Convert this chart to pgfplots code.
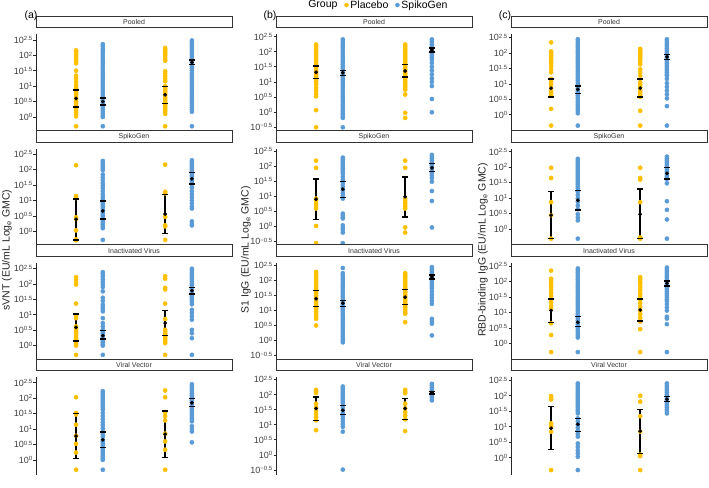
\documentclass[border=0pt]{standalone}
\usepackage{fontspec}
\setmainfont{Liberation Sans}
\usepackage{pgfplots}
\pgfplotsset{compat=1.18}
\definecolor{plc}{HTML}{FFC000}
\definecolor{spk}{HTML}{5B9BD5}
\newcommand{\tpow}[1]{10\raisebox{0.55ex}{\fontsize{6}{6}\selectfont #1}}
\newcommand{\pts}[3]{\addplot[forget plot, only marks, mark=*, mark size=2.1pt, color=#1] table[header=false, row sep=\\, x expr=#2, y index=0] {#3};}
% \eb{x}{mean}{upper}{lower}
\newcommand{\eb}[4]{%
\addplot[forget plot, black, line width=1.4pt] coordinates {(#1,#4) (#1,#3)};
\addplot[forget plot, black, only marks, mark=-, mark size=2.8pt, mark options={line width=1.4pt}] coordinates {(#1,#3) (#1,#4)};
\addplot[forget plot, black, only marks, mark=*, mark size=1.7pt] coordinates {(#1,#2)};}
\pgfplotsset{
 panel/.style={scale only axis, width=196pt, height=97.5pt, xmin=0.4, xmax=2.6,
   axis x line=none, axis y line*=left, axis line style={-, black!85, line width=0.6pt},
   xtick=\empty, tick align=outside, major tick length=2.5pt,
   every tick/.style={black!85, line width=0.6pt},
   tick label style={font=\fontsize{9}{10}\selectfont, text=black!75},
   yticklabel style={inner sep=1pt},
   title style={at={(0.5,1)}, anchor=south, yshift=0pt, draw=black!80, fill=white, line width=0.8pt,
     minimum width=196pt, minimum height=11.6pt, inner sep=0pt, font=\fontsize{7}{8}\selectfont, text=black!80}},
 colA/.style={ymin=-0.48, ymax=2.68, ytick={0,0.5,1,1.5,2,2.5},
   yticklabels={\tpow{0},\tpow{0.5},\tpow{1},\tpow{1.5},\tpow{2},\tpow{2.5}}},
 colB/.style={ymin=-0.66, ymax=2.58, ytick={-0.5,0,0.5,1,1.5,2,2.5},
   yticklabels={\tpow{−0.5},\tpow{0},\tpow{0.5},\tpow{1},\tpow{1.5},\tpow{2},\tpow{2.5}}},
 colC/.style={ymin=-0.55, ymax=2.6, ytick={0,0.5,1,1.5,2,2.5},
   yticklabels={\tpow{0},\tpow{0.5},\tpow{1},\tpow{1.5},\tpow{2},\tpow{2.5}}},
 bottomrow/.style={axis x line*=bottom, xtick={1,2}, xticklabels={Day0,Day14}, x tick label style={font=\fontsize{10}{11}\selectfont}}
}
\begin{document}
\begin{tikzpicture}
\useasboundingbox (0,0) rectangle (709pt,487pt);
% ================= column (a) =================
\begin{axis}[panel, colA, at={(36pt,355.2pt)}, title={Pooled}]
\pts{plc}{0.85}{2.16\\2.10\\2.04\\1.98\\1.92\\1.86\\1.80\\1.74\\1.50\\1.34\\1.24\\1.14\\1.04\\0.98\\0.92\\0.86\\0.80\\0.74\\0.68\\0.62\\0.56\\0.50\\0.44\\0.38\\0.32\\0.26\\0.20\\0.14\\0.08\\0.02\\-0.30\\}
\pts{spk}{1.15}{2.36\\2.29\\2.22\\2.15\\2.08\\2.01\\1.94\\1.87\\1.80\\1.73\\1.66\\1.59\\1.52\\1.45\\1.38\\1.31\\1.24\\1.17\\1.10\\1.03\\0.96\\0.89\\0.82\\0.75\\0.68\\0.61\\0.54\\0.47\\0.40\\0.33\\0.26\\0.19\\0.12\\0.05\\0.00\\-0.30\\}
\pts{plc}{1.85}{2.24\\2.18\\2.12\\2.06\\2.00\\1.94\\1.88\\1.82\\1.48\\1.40\\1.32\\1.24\\1.16\\1.00\\0.94\\0.88\\0.82\\0.76\\0.70\\0.64\\0.58\\0.52\\0.46\\0.40\\0.34\\0.28\\0.22\\0.16\\0.10\\-0.30\\}
\pts{spk}{2.15}{2.48\\2.41\\2.34\\2.27\\2.20\\2.13\\2.06\\1.99\\1.92\\1.85\\1.78\\1.71\\1.64\\1.57\\1.50\\1.43\\1.36\\1.29\\1.22\\1.15\\1.08\\1.01\\0.94\\0.87\\0.80\\0.73\\0.66\\0.59\\0.52\\0.45\\0.38\\0.31\\0.24\\0.17\\-0.30\\}
\eb{0.85}{0.60}{0.88}{0.32}
\eb{1.15}{0.50}{0.61}{0.39}
\eb{1.85}{0.72}{0.98}{0.44}
\eb{2.15}{1.77}{1.85}{1.70}
\end{axis}
\begin{axis}[panel, colA, at={(36pt,240.9pt)}, title={SpikoGen}]
\pts{plc}{0.85}{2.14\\1.14\\1.08\\0.45\\0.40\\0.03\\-0.26\\-0.29\\}
\pts{spk}{1.15}{2.28\\2.22\\2.16\\2.10\\2.04\\1.98\\1.84\\1.75\\1.66\\1.56\\1.48\\1.40\\1.30\\1.20\\1.12\\1.05\\0.99\\0.93\\0.87\\0.81\\0.75\\0.69\\0.63\\0.57\\0.51\\0.45\\0.39\\0.33\\0.27\\0.21\\0.15\\0.10\\-0.28\\}
\pts{plc}{1.85}{2.16\\1.28\\1.23\\0.47\\0.19\\0.16\\-0.28\\}
\pts{spk}{2.15}{2.30\\2.24\\2.18\\2.12\\2.06\\2.00\\1.94\\1.88\\1.82\\1.76\\1.70\\1.64\\1.58\\1.53\\1.42\\1.30\\1.20\\1.10\\1.00\\0.90\\0.80\\0.74\\0.32\\0.24\\0.19\\}
\eb{0.85}{0.39}{1.05}{-0.28}
\eb{1.15}{0.66}{0.98}{0.40}
\eb{1.85}{0.56}{1.19}{-0.07}
\eb{2.15}{1.70}{1.90}{1.53}
\end{axis}
\begin{axis}[panel, colA, at={(36pt,126.6pt)}, title={Inactivated Virus}]
\pts{plc}{0.85}{2.22\\2.14\\2.05\\1.98\\1.36\\0.97\\0.89\\0.62\\0.55\\0.48\\0.41\\0.34\\0.27\\0.20\\0.13\\0.06\\0.00\\-0.30\\}
\pts{spk}{1.15}{2.38\\2.31\\2.23\\2.14\\2.06\\1.98\\1.90\\1.76\\1.55\\1.45\\1.33\\1.25\\1.18\\1.11\\0.89\\0.73\\0.62\\0.51\\0.45\\0.39\\0.33\\0.27\\0.21\\0.15\\0.09\\0.03\\0.00\\-0.30\\}
\pts{plc}{1.85}{2.25\\2.17\\1.87\\1.82\\1.36\\0.86\\0.51\\0.45\\0.39\\0.33\\0.27\\0.21\\0.15\\0.08\\-0.30\\}
\pts{spk}{2.15}{2.49\\2.43\\2.37\\2.31\\2.25\\2.19\\2.13\\2.07\\2.01\\1.95\\1.89\\1.83\\1.77\\1.71\\1.65\\1.59\\1.53\\1.47\\1.41\\1.34\\1.16\\1.06\\0.95\\0.84\\0.51\\0.40\\0.24\\-0.30\\}
\eb{0.85}{0.59}{1.02}{0.15}
\eb{1.15}{0.32}{0.49}{0.21}
\eb{1.85}{0.73}{1.13}{0.32}
\eb{2.15}{1.78}{1.89}{1.67}
\end{axis}
\begin{axis}[panel, colA, bottomrow, at={(36pt,12.3pt)}, title={Viral Vector}]
\pts{plc}{0.85}{2.03\\1.52\\1.47\\1.14\\0.78\\0.52\\0.24\\-0.32\\}
\pts{spk}{1.15}{2.23\\2.17\\2.11\\2.05\\1.99\\1.93\\1.87\\1.81\\1.75\\1.69\\1.63\\1.52\\1.42\\1.32\\1.22\\1.12\\1.02\\0.92\\0.84\\0.76\\0.65\\0.59\\0.53\\0.47\\0.41\\0.35\\0.29\\0.23\\0.17\\0.11\\0.05\\0.00\\-0.32\\}
\pts{plc}{1.85}{2.25\\2.03\\1.55\\1.42\\1.28\\0.85\\0.60\\0.33\\-0.32\\}
\pts{spk}{2.15}{2.45\\2.39\\2.33\\2.27\\2.21\\2.15\\2.09\\2.03\\1.97\\1.91\\1.85\\1.79\\1.73\\1.67\\1.61\\1.55\\1.49\\1.43\\1.37\\1.31\\1.25\\1.09\\1.00\\0.92\\0.57\\}
\eb{0.85}{0.77}{1.50}{0.05}
\eb{1.15}{0.65}{0.90}{0.41}
\eb{1.85}{0.83}{1.58}{0.08}
\eb{2.15}{1.85}{1.98}{1.74}
\end{axis}
% ================= column (b) =================
\begin{axis}[panel, colB, at={(276pt,355.2pt)}, title={Pooled},
  legend style={at={(0.52,1.30)}, anchor=center, draw=none, fill=none, legend columns=-1,
   font=\fontsize{10.5}{12}\selectfont, /tikz/every even column/.append style={column sep=5pt}},
  legend cell align=left]
\addlegendimage{empty legend}\addlegendentry{Group}
\addlegendimage{only marks, mark=*, mark size=2pt, color=plc}\addlegendentry{Placebo}
\addlegendimage{only marks, mark=*, mark size=2pt, color=spk}\addlegendentry{SpikoGen}
\pts{plc}{0.85}{2.24\\2.18\\2.12\\2.06\\2.00\\1.94\\1.88\\1.82\\1.76\\1.70\\1.64\\1.58\\1.52\\1.46\\1.40\\1.34\\1.28\\1.22\\1.16\\1.10\\1.04\\0.97\\0.91\\0.80\\0.70\\0.60\\0.52\\0.06\\-0.51\\}
\pts{spk}{1.15}{2.41\\2.34\\2.27\\2.20\\2.13\\2.06\\1.99\\1.92\\1.85\\1.78\\1.71\\1.64\\1.57\\1.50\\1.43\\1.36\\1.29\\1.22\\1.15\\1.08\\1.01\\0.94\\0.87\\0.80\\0.73\\0.66\\0.59\\0.52\\0.45\\0.38\\0.31\\0.24\\0.17\\0.10\\0.03\\-0.04\\-0.09\\-0.15\\-0.20\\-0.51\\}
\pts{plc}{1.85}{2.24\\2.18\\2.12\\2.06\\2.00\\1.94\\1.88\\1.82\\1.76\\1.70\\1.64\\1.58\\1.52\\1.46\\1.40\\1.34\\1.28\\1.22\\1.16\\1.10\\1.04\\0.98\\0.92\\0.86\\0.80\\0.74\\0.58\\-0.03\\-0.20\\}
\pts{spk}{2.15}{2.41\\2.35\\2.29\\2.23\\2.17\\2.11\\2.05\\1.99\\1.93\\1.87\\1.81\\1.74\\1.63\\1.50\\1.38\\1.25\\1.12\\1.00\\0.86\\0.43\\-0.01\\}
\eb{0.85}{1.32}{1.52}{1.11}
\eb{1.15}{1.30}{1.38}{1.21}
\eb{1.85}{1.36}{1.58}{1.16}
\eb{2.15}{2.06}{2.13}{1.99}
\end{axis}
\begin{axis}[panel, colB, at={(276pt,240.9pt)}, title={SpikoGen}]
\pts{plc}{0.85}{2.18\\1.94\\0.92\\0.86\\0.76\\0.68\\0.59\\0.01\\-0.56\\}
\pts{spk}{1.15}{2.28\\2.22\\2.16\\2.10\\2.04\\1.98\\1.92\\1.86\\1.80\\1.74\\1.64\\1.55\\1.46\\1.37\\1.28\\1.19\\1.10\\1.01\\0.92\\0.42\\0.36\\0.30\\0.26\\0.03\\-0.05\\-0.12\\-0.21\\-0.56\\}
\pts{plc}{1.85}{2.18\\1.94\\0.92\\0.84\\0.75\\0.66\\0.59\\-0.04\\-0.21\\}
\pts{spk}{2.15}{2.37\\2.31\\2.25\\2.19\\2.13\\2.07\\2.01\\1.95\\1.87\\1.78\\1.70\\1.60\\1.48\\1.17\\0.84\\-0.04\\}
\eb{0.85}{0.90}{1.57}{0.23}
\eb{1.15}{1.23}{1.48}{0.96}
\eb{1.85}{0.98}{1.64}{0.31}
\eb{2.15}{1.94}{2.09}{1.81}
\end{axis}
\begin{axis}[panel, colB, at={(276pt,126.6pt)}, title={Inactivated Virus}]
\pts{plc}{0.85}{2.28\\2.22\\2.16\\2.10\\2.04\\1.98\\1.92\\1.86\\1.80\\1.74\\1.68\\1.62\\1.56\\1.50\\1.44\\1.38\\1.32\\1.26\\1.20\\1.14\\1.08\\1.02\\0.96\\0.90\\0.84\\0.78\\0.72\\0.50\\}
\pts{spk}{1.15}{2.41\\2.24\\2.17\\2.10\\2.03\\1.96\\1.89\\1.82\\1.75\\1.68\\1.61\\1.54\\1.47\\1.40\\1.33\\1.26\\1.19\\1.12\\1.05\\0.98\\0.91\\0.84\\0.77\\0.70\\0.63\\0.56\\0.49\\0.42\\0.35\\0.28\\0.21\\0.14\\0.07\\0.00\\-0.06\\}
\pts{plc}{1.85}{2.24\\2.18\\2.12\\2.06\\2.00\\1.94\\1.88\\1.82\\1.76\\1.70\\1.64\\1.58\\1.52\\1.46\\1.40\\1.34\\1.28\\1.22\\1.16\\1.10\\1.04\\0.98\\0.92\\0.89\\0.61\\}
\pts{spk}{2.15}{2.44\\2.38\\2.32\\2.26\\2.20\\2.14\\2.08\\2.02\\1.96\\1.90\\1.84\\1.78\\1.72\\1.62\\1.52\\1.42\\1.32\\1.22\\0.72\\0.64\\0.56\\0.17\\}
\eb{0.85}{1.39}{1.67}{1.14}
\eb{1.15}{1.24}{1.33}{1.13}
\eb{1.85}{1.44}{1.70}{1.20}
\eb{2.15}{2.11}{2.18}{2.04}
\end{axis}
\begin{axis}[panel, colB, bottomrow, at={(276pt,12.3pt)}, title={Viral Vector}]
\pts{plc}{0.85}{2.16\\2.10\\2.05\\1.70\\1.58\\1.45\\1.35\\1.25\\1.15\\0.82\\}
\pts{spk}{1.15}{2.27\\2.21\\2.15\\2.09\\2.03\\1.97\\1.91\\1.85\\1.79\\1.73\\1.65\\1.56\\1.47\\1.38\\1.29\\1.20\\1.11\\1.02\\0.93\\0.77\\-0.49\\}
\pts{plc}{1.85}{2.16\\2.10\\2.05\\1.70\\1.55\\1.42\\1.30\\1.18\\0.79\\}
\pts{spk}{2.15}{2.36\\2.30\\2.24\\2.18\\2.12\\2.06\\2.00\\1.94\\1.88\\1.81\\}
\eb{0.85}{1.54}{1.92}{1.15}
\eb{1.15}{1.48}{1.63}{1.34}
\eb{1.85}{1.54}{1.87}{1.18}
\eb{2.15}{2.07}{2.11}{2.02}
\end{axis}
% ================= column (c) =================
\begin{axis}[panel, colC, at={(511pt,355.2pt)}, title={Pooled}]
\pts{plc}{0.85}{2.34\\2.05\\2.00\\1.95\\1.90\\1.84\\1.78\\1.72\\1.65\\1.58\\1.47\\1.37\\1.16\\1.08\\1.00\\0.92\\0.84\\0.76\\0.70\\0.63\\0.19\\-0.35\\}
\pts{spk}{1.15}{2.44\\2.37\\2.30\\2.23\\2.16\\2.09\\2.02\\1.95\\1.88\\1.81\\1.74\\1.67\\1.60\\1.53\\1.46\\1.39\\1.32\\1.25\\1.18\\1.11\\1.04\\0.97\\0.90\\0.83\\0.76\\0.69\\0.62\\0.55\\0.48\\0.41\\0.34\\0.27\\0.20\\0.13\\0.05\\-0.35\\}
\pts{plc}{1.85}{2.13\\2.08\\2.02\\1.96\\1.90\\1.84\\1.78\\1.71\\1.63\\1.47\\1.38\\1.26\\1.05\\0.97\\0.89\\0.80\\0.72\\0.65\\0.58\\0.13\\-0.35\\}
\pts{spk}{2.15}{2.44\\2.38\\2.32\\2.26\\2.20\\2.14\\2.08\\2.02\\1.96\\1.90\\1.84\\1.78\\1.72\\1.66\\1.60\\1.54\\1.48\\1.42\\1.36\\1.30\\1.26\\1.16\\1.02\\0.90\\0.78\\0.66\\0.53\\0.28\\-0.35\\}
\eb{0.85}{0.86}{1.16}{0.57}
\eb{1.15}{0.82}{0.93}{0.68}
\eb{1.85}{0.86}{1.16}{0.57}
\eb{2.15}{1.87}{1.95}{1.79}
\end{axis}
\begin{axis}[panel, colC, at={(511pt,240.9pt)}, title={SpikoGen}]
\pts{plc}{0.85}{1.98\\1.65\\0.87\\0.45\\-0.31\\}
\pts{spk}{1.15}{2.27\\2.21\\2.15\\2.09\\2.03\\1.97\\1.91\\1.85\\1.79\\1.73\\1.67\\1.61\\1.55\\1.49\\1.43\\1.37\\1.31\\1.21\\1.10\\0.99\\0.88\\0.76\\0.64\\0.48\\0.38\\0.28\\-0.31\\}
\pts{plc}{1.85}{1.98\\1.65\\1.60\\0.87\\-0.27\\-0.31\\}
\pts{spk}{2.15}{2.34\\2.28\\2.22\\2.16\\2.10\\2.04\\1.98\\1.92\\1.86\\1.80\\1.74\\1.68\\1.62\\1.48\\0.90\\0.62\\0.31\\-0.31\\}
\eb{0.85}{0.45}{1.21}{-0.31}
\eb{1.15}{0.93}{1.24}{0.61}
\eb{1.85}{0.48}{1.29}{-0.31}
\eb{2.15}{1.80}{1.98}{1.62}
\end{axis}
\begin{axis}[panel, colC, at={(511pt,126.6pt)}, title={Inactivated Virus}]
\pts{plc}{0.85}{2.35\\2.09\\2.03\\1.96\\1.88\\1.80\\1.72\\1.63\\1.53\\1.42\\1.32\\1.21\\1.11\\0.65\\0.27\\-0.28\\}
\pts{spk}{1.15}{2.42\\2.35\\2.28\\2.21\\2.14\\2.07\\2.00\\1.93\\1.86\\1.79\\1.72\\1.65\\1.58\\1.51\\1.44\\1.37\\1.30\\1.23\\1.16\\1.09\\1.02\\0.95\\0.88\\0.81\\0.74\\0.67\\0.60\\0.53\\0.46\\0.39\\0.32\\0.25\\0.19\\-0.28\\}
\pts{plc}{1.85}{2.14\\2.08\\2.00\\1.92\\1.82\\1.72\\1.62\\1.53\\1.42\\1.30\\1.18\\1.06\\0.94\\0.82\\0.70\\0.46\\-0.28\\}
\pts{spk}{2.15}{2.45\\2.39\\2.33\\2.27\\2.21\\2.15\\2.09\\2.03\\1.97\\1.91\\1.85\\1.79\\1.73\\1.67\\1.61\\1.55\\1.49\\1.42\\1.37\\1.27\\1.16\\1.06\\0.86\\0.80\\0.62\\-0.28\\}
\eb{0.85}{1.06}{1.44}{0.68}
\eb{1.15}{0.68}{0.86}{0.54}
\eb{1.85}{1.08}{1.44}{0.72}
\eb{2.15}{1.94}{2.02}{1.86}
\end{axis}
\begin{axis}[panel, colC, bottomrow, at={(511pt,12.3pt)}, title={Viral Vector}]
\pts{plc}{0.85}{1.99\\1.93\\1.88\\1.11\\1.05\\1.00\\0.84\\-0.40\\}
\pts{spk}{1.15}{2.40\\2.34\\2.28\\2.22\\2.16\\2.10\\2.04\\1.98\\1.92\\1.86\\1.80\\1.74\\1.68\\1.62\\1.56\\1.50\\1.43\\1.27\\1.17\\1.07\\0.97\\0.87\\0.77\\0.68\\0.46\\0.35\\0.24\\0.14\\0.03\\-0.40\\}
\pts{plc}{1.85}{2.00\\1.81\\1.34\\0.84\\0.10\\0.05\\-0.40\\}
\pts{spk}{2.15}{2.40\\2.34\\2.28\\2.22\\2.16\\2.10\\2.04\\1.98\\1.92\\1.86\\1.80\\1.74\\1.68\\1.62\\1.56\\1.50\\1.43\\}
\eb{0.85}{0.95}{1.65}{0.27}
\eb{1.15}{1.08}{1.27}{0.84}
\eb{1.85}{0.86}{1.56}{0.14}
\eb{2.15}{1.89}{1.97}{1.81}
\end{axis}
% ================= labels =================
\node[rotate=90, font=\fontsize{10.5}{12}\selectfont, text=black!85] at (7pt,237pt) {sVNT (EU/mL Log\textsubscript{e} GMC)};
\node[rotate=90, font=\fontsize{10.5}{12}\selectfont, text=black!85] at (246pt,237pt) {S1 IgG (EU/mL Log\textsubscript{e} GMC)};
\node[rotate=90, font=\fontsize{10.5}{12}\selectfont, text=black!85] at (483pt,237pt) {RBD-binding IgG (EU/mL Log\textsubscript{e} GMC)};
\node[font=\fontsize{10.5}{12}\selectfont] at (31pt,471pt) {(a)};
\node[font=\fontsize{10.5}{12}\selectfont] at (270pt,471pt) {(b)};
\node[font=\fontsize{10.5}{12}\selectfont] at (505pt,471pt) {(c)};
\end{tikzpicture}
\end{document}
